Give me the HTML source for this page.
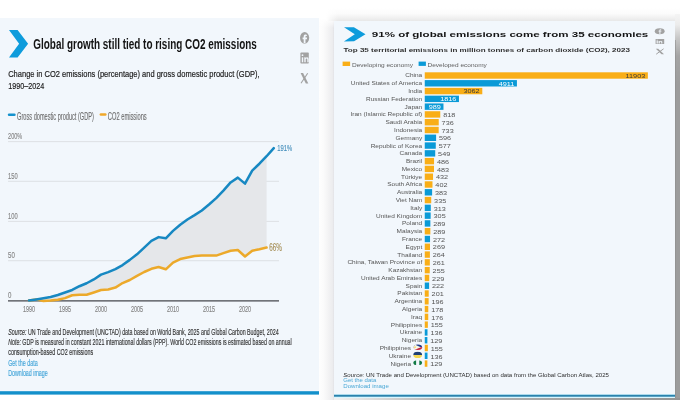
<!DOCTYPE html>
<html><head><meta charset="utf-8"><style>
html,body{margin:0;padding:0;background:#ffffff;width:680px;height:400px;overflow:hidden}
svg{display:block;filter:blur(0.28px);font-family:"Liberation Sans", sans-serif}
</style></head><body>
<svg width="680" height="400" viewBox="0 0 680 400">
<defs><linearGradient id="gl" x1="0" x2="1" y1="0" y2="0"><stop offset="0" stop-color="#fefefe"/><stop offset="0.3" stop-color="#fbfbfb"/><stop offset="0.9" stop-color="#ececee"/><stop offset="1" stop-color="#e2e2e6"/></linearGradient><linearGradient id="glv" x1="0" x2="0" y1="0" y2="1"><stop offset="0" stop-color="#fff" stop-opacity="1"/><stop offset="1" stop-color="#fff" stop-opacity="0"/></linearGradient><linearGradient id="gt" x1="0" x2="0" y1="0" y2="1"><stop offset="0" stop-color="#ffffff"/><stop offset="0.45" stop-color="#fbfbfb"/><stop offset="1" stop-color="#e8e8e8"/></linearGradient><linearGradient id="gtl" x1="0" x2="1" y1="0" y2="0"><stop offset="0" stop-color="#fff" stop-opacity="1"/><stop offset="1" stop-color="#fff" stop-opacity="0"/></linearGradient><linearGradient id="gr" x1="0" x2="0" y1="0" y2="1"><stop offset="0" stop-color="#f4f4f4"/><stop offset="0.15" stop-color="#ececec"/><stop offset="0.35" stop-color="#c6c6c6"/><stop offset="0.6" stop-color="#a4a4a4"/><stop offset="1" stop-color="#9c9c9c"/></linearGradient><linearGradient id="gb" x1="0" x2="1" y1="0" y2="0"><stop offset="0" stop-color="#f2f2f2"/><stop offset="0.3" stop-color="#b5b5b5"/><stop offset="1" stop-color="#949494"/></linearGradient></defs>
<rect x="319" y="18" width="15" height="382" fill="url(#gl)"/>
<rect x="319" y="18" width="15" height="10" fill="url(#glv)"/>
<rect x="326" y="8" width="354" height="13" fill="url(#gt)"/>
<rect x="326" y="8" width="12" height="13" fill="url(#gtl)"/>
<rect x="675" y="14" width="5" height="70" fill="url(#gr)"/>
<rect x="675" y="84" width="5" height="316" fill="#9c9c9c"/>
<rect x="675" y="40" width="1" height="360" fill="#8e8e8e" opacity="0.6"/>
<rect x="334" y="398" width="346" height="2" fill="url(#gb)"/>
<rect x="0" y="18" width="319" height="373.5" fill="#f2f7fc"/>
<rect x="0" y="391.2" width="319" height="3.4" fill="#1390cb"/>
<polygon points="9,30 17.6,30 28.1,43.7 17.6,57.5 9,57.5 19.1,43.7" fill="#0e9cdc"/>
<text x="33.30" y="49.00" font-size="14.6" font-weight="bold" fill="#141414" textLength="223.50" lengthAdjust="spacingAndGlyphs">Global growth still tied to rising CO2 emissions</text>

<text x="8.20" y="76.60" font-size="9.8" fill="#222222" stroke="#222222" stroke-width="0.2" textLength="251.50" lengthAdjust="spacingAndGlyphs">Change in CO2 emissions (percentage) and gross domestic product (GDP),</text>

<text x="8.20" y="89.20" font-size="9.8" fill="#222222" stroke="#222222" stroke-width="0.2" textLength="36.00" lengthAdjust="spacingAndGlyphs">1990–2024</text>

<g fill="#a2a2a2">
<ellipse cx="304.6" cy="37.8" rx="4.6" ry="5.9"/>
<rect x="300.4" y="52.6" width="8.4" height="11" rx="0.8"/>
</g>
<path d="M306.3,34.6 h-1.2 q-1.4,0 -1.4,1.5 v1.4 h-1.1 v1.7 h1.1 v4.1 h1.8 v-4.1 h1.4 l0.2,-1.7 h-1.6 v-1.1 q0,-0.5 0.5,-0.5 h1.1 z" fill="#f2f7fc"/>
<g fill="#f2f7fc"><rect x="301.8" y="57.3" width="1.4" height="5"/><circle cx="302.5" cy="55.2" r="0.9"/><path d="M304.3,57.3 h1.3 v0.7 q0.5,-0.8 1.5,-0.8 q1.6,0 1.6,2 v3.1 h-1.4 v-2.8 q0,-0.9 -0.8,-0.9 q-0.8,0 -0.8,1 v2.7 h-1.4 z"/></g>
<polygon points="300.6,73 303.1,73 308.3,83.5 305.8,83.5" fill="#a2a2a2"/>
<path d="M307.7,73.2 L301,83.3" stroke="#a2a2a2" stroke-width="1.1"/>
<line x1="9.1" y1="114.7" x2="14.4" y2="114.7" stroke="#1592cd" stroke-width="2.6" stroke-linecap="round"/>
<text x="17.10" y="119.60" font-size="10.2" fill="#6c6c6c" stroke="#6c6c6c" stroke-width="0.12" textLength="76.80" lengthAdjust="spacingAndGlyphs">Gross domestic product (GDP)</text>

<line x1="100.9" y1="114.5" x2="105.3" y2="114.5" stroke="#f0a82a" stroke-width="2.6" stroke-linecap="round"/>
<text x="107.80" y="119.60" font-size="10.2" fill="#6c6c6c" stroke="#6c6c6c" stroke-width="0.12" textLength="38.90" lengthAdjust="spacingAndGlyphs">CO2 emissions</text>

<rect x="8" y="141.05" width="271" height="1.1" fill="#dfe2e6"/>
<rect x="8" y="180.75" width="271" height="1.1" fill="#dfe2e6"/>
<rect x="8" y="220.85" width="271" height="1.1" fill="#dfe2e6"/>
<rect x="8" y="260.15" width="271" height="1.1" fill="#dfe2e6"/>
<text x="8.10" y="138.90" font-size="9.7" fill="#858585" stroke="#858585" stroke-width="0.14" textLength="14.20" lengthAdjust="spacingAndGlyphs">200%</text>

<text x="8.10" y="178.60" font-size="9.7" fill="#858585" stroke="#858585" stroke-width="0.14" textLength="9.60" lengthAdjust="spacingAndGlyphs">150</text>

<text x="8.10" y="218.70" font-size="9.7" fill="#858585" stroke="#858585" stroke-width="0.14" textLength="9.60" lengthAdjust="spacingAndGlyphs">100</text>

<text x="8.10" y="258.00" font-size="9.7" fill="#858585" stroke="#858585" stroke-width="0.14" textLength="6.80" lengthAdjust="spacingAndGlyphs">50</text>

<text x="8.10" y="298.15" font-size="9.7" fill="#858585" stroke="#858585" stroke-width="0.14" textLength="3.40" lengthAdjust="spacingAndGlyphs">0</text>

<polygon points="29.00,300.60 36.20,299.40 43.40,298.20 50.60,296.93 57.80,295.01 65.00,292.54 72.20,289.98 79.40,286.23 86.60,283.27 93.80,279.44 101.00,274.65 108.20,272.09 115.40,269.06 122.60,265.07 129.80,259.88 137.00,254.29 144.20,247.58 151.40,240.87 158.60,237.12 165.80,238.32 173.00,230.89 180.20,224.74 187.40,219.55 194.60,215.16 201.80,210.53 209.00,204.54 216.20,198.15 223.40,190.57 230.60,182.42 237.80,177.63 245.00,183.62 252.20,170.60 259.40,163.74 266.60,156.23 266.60,247.50 259.40,249.18 252.20,250.69 245.00,256.52 237.80,250.05 230.60,250.69 223.40,253.09 216.20,255.56 209.00,255.56 201.80,255.56 194.60,256.04 187.40,257.48 180.20,259.08 173.00,262.59 165.80,269.30 158.60,267.06 151.40,268.82 144.20,272.01 137.00,275.85 129.80,280.00 122.60,283.03 115.40,287.58 108.20,289.42 101.00,290.06 93.80,292.46 86.60,294.69 79.40,294.77 72.20,295.25 65.00,298.12 57.80,299.80 50.60,300.60 43.40,301.00 36.20,299.40 29.00,300.60" fill="#e5e7ea"/>
<rect x="8" y="300.05" width="271" height="1.6" fill="#6b6e73"/>
<text x="29.00" y="311.90" font-size="8.6" text-anchor="middle" fill="#858585" stroke="#858585" stroke-width="0.14" textLength="12.20" lengthAdjust="spacingAndGlyphs">1990</text>

<text x="65.00" y="311.90" font-size="8.6" text-anchor="middle" fill="#858585" stroke="#858585" stroke-width="0.14" textLength="12.20" lengthAdjust="spacingAndGlyphs">1995</text>

<text x="101.00" y="311.90" font-size="8.6" text-anchor="middle" fill="#858585" stroke="#858585" stroke-width="0.14" textLength="12.20" lengthAdjust="spacingAndGlyphs">2000</text>

<text x="137.00" y="311.90" font-size="8.6" text-anchor="middle" fill="#858585" stroke="#858585" stroke-width="0.14" textLength="12.20" lengthAdjust="spacingAndGlyphs">2005</text>

<text x="173.00" y="311.90" font-size="8.6" text-anchor="middle" fill="#858585" stroke="#858585" stroke-width="0.14" textLength="12.20" lengthAdjust="spacingAndGlyphs">2010</text>

<text x="209.00" y="311.90" font-size="8.6" text-anchor="middle" fill="#858585" stroke="#858585" stroke-width="0.14" textLength="12.20" lengthAdjust="spacingAndGlyphs">2015</text>

<text x="245.00" y="311.90" font-size="8.6" text-anchor="middle" fill="#858585" stroke="#858585" stroke-width="0.14" textLength="12.20" lengthAdjust="spacingAndGlyphs">2020</text>

<polyline points="29.00,300.60 36.20,299.40 43.40,301.00 50.60,300.60 57.80,299.80 65.00,298.12 72.20,295.25 79.40,294.77 86.60,294.69 93.80,292.46 101.00,290.06 108.20,289.42 115.40,287.58 122.60,283.03 129.80,280.00 137.00,275.85 144.20,272.01 151.40,268.82 158.60,267.06 165.80,269.30 173.00,262.59 180.20,259.08 187.40,257.48 194.60,256.04 201.80,255.56 209.00,255.56 216.20,255.56 223.40,253.09 230.60,250.69 237.80,250.05 245.00,256.52 252.20,250.69 259.40,249.18 266.60,247.50" fill="none" stroke="#eca92a" stroke-width="2.5" stroke-linejoin="round" stroke-linecap="round"/>
<polyline points="29.00,300.60 36.20,299.40 43.40,298.20 50.60,296.93 57.80,295.01 65.00,292.54 72.20,289.98 79.40,286.23 86.60,283.27 93.80,279.44 101.00,274.65 108.20,272.09 115.40,269.06 122.60,265.07 129.80,259.88 137.00,254.29 144.20,247.58 151.40,240.87 158.60,237.12 165.80,238.32 173.00,230.89 180.20,224.74 187.40,219.55 194.60,215.16 201.80,210.53 209.00,204.54 216.20,198.15 223.40,190.57 230.60,182.42 237.80,177.63 245.00,183.62 252.20,170.60 259.40,163.74 266.60,156.23 273.80,148.09" fill="none" stroke="#1788c2" stroke-width="2.5" stroke-linejoin="round" stroke-linecap="round"/>
<text x="277.20" y="151.20" font-size="9.8" fill="#458fbc" stroke="#458fbc" stroke-width="0.14" textLength="15.00" lengthAdjust="spacingAndGlyphs">191%</text>

<text x="269.20" y="250.70" font-size="10" fill="#a38b52" stroke="#a38b52" stroke-width="0.14" textLength="12.60" lengthAdjust="spacingAndGlyphs">66%</text>

<text x="8.2" y="335.0" font-size="8.4" fill="#333333" stroke="#333333" stroke-width="0.14" textLength="270.5" lengthAdjust="spacingAndGlyphs"><tspan font-style="italic">Source:</tspan> UN Trade and Development (UNCTAD) data based on World Bank, 2025 and Global Carbon Budget, 2024</text>
<text x="8.2" y="345.0" font-size="8.4" fill="#333333" stroke="#333333" stroke-width="0.14" textLength="283.5" lengthAdjust="spacingAndGlyphs"><tspan font-style="italic">Note:</tspan> GDP is measured in constant 2021 international dollars (PPP). World CO2 emissions is estimated based on annual</text>
<text x="8.20" y="355.00" font-size="8.4" fill="#333333" stroke="#333333" stroke-width="0.14" textLength="85.00" lengthAdjust="spacingAndGlyphs">consumption-based CO2 emissions</text>

<text x="8.20" y="365.80" font-size="8.4" fill="#43a5d9" stroke="#43a5d9" stroke-width="0.14" textLength="29.50" lengthAdjust="spacingAndGlyphs">Get the data</text>

<text x="8.20" y="375.80" font-size="8.4" fill="#43a5d9" stroke="#43a5d9" stroke-width="0.14" textLength="39.50" lengthAdjust="spacingAndGlyphs">Download image</text>

<rect x="334" y="21" width="341" height="374" fill="#f2f7fc"/>
<rect x="334" y="394.3" width="341" height="0.7" fill="#bdeefc"/>
<rect x="334" y="394.8" width="341" height="2.1" fill="#2a82ad"/>
<rect x="334" y="396.8" width="341" height="0.9" fill="#c9f3ff"/>
<polygon points="344,27.3 353.9,27.3 365.5,34.3 354.1,41.3 343.9,41.4 354.8,34.3" fill="#0e9cdc"/>
<text x="371.80" y="37.10" font-size="7.4" font-weight="bold" fill="#141414" textLength="276.50" lengthAdjust="spacingAndGlyphs">91% of global emissions come from 35 economies</text>

<text x="343.50" y="51.60" font-size="5.6" font-weight="bold" fill="#2e2e2e" textLength="286.50" lengthAdjust="spacingAndGlyphs">Top 35 territorial emissions in million tonnes of carbon dioxide (CO2), 2023</text>

<g fill="#a2a2a2"><ellipse cx="659.7" cy="31.2" rx="4.95" ry="2.95"/><rect x="655.6" y="39.1" width="8.6" height="5" rx="0.4"/></g>
<path d="M660.6,29.2 q-1.2,0 -1.2,0.9 v0.7 h-0.9 v0.8 h0.9 v2.6 h1 v-2.6 h1 l0.1,-0.8 h-1.1 v-0.5 q0,-0.3 0.4,-0.3 h0.7 z" fill="#f2f7fc"/>
<g fill="#f2f7fc"><rect x="656.6" y="41" width="1.2" height="2.5"/><rect x="656.6" y="39.8" width="1.2" height="0.8"/><path d="M658.6,41 h1.1 v0.4 q0.5,-0.5 1.3,-0.5 q1.3,0 1.3,1.2 v1.4 h-1.1 v-1.2 q0,-0.5 -0.6,-0.5 q-0.8,0 -0.8,0.6 v1.1 h-1.2 z"/></g>
<polygon points="655.8,48.7 658.2,48.7 664,54.3 661.6,54.3" fill="#a2a2a2"/>
<path d="M663.6,48.8 L656.2,54.2" stroke="#a2a2a2" stroke-width="1"/>
<rect x="342.6" y="61.6" width="7.5" height="4.4" fill="#f9ae17"/>
<text x="352.00" y="66.50" font-size="6.0" fill="#5e5e5e" textLength="61.00" lengthAdjust="spacingAndGlyphs">Developing economy</text>

<rect x="418.6" y="61.6" width="7.3" height="4.3" fill="#0a9ad7"/>
<text x="427.50" y="66.50" font-size="6.0" fill="#5e5e5e" textLength="59.30" lengthAdjust="spacingAndGlyphs">Developed economy</text>

<rect x="424.75" y="72.30" width="223.11" height="6.4" fill="#f9ae17"/>
<text x="422.20" y="77.45" font-size="6.2" text-anchor="end" fill="#555" textLength="16.94" lengthAdjust="spacingAndGlyphs">China</text>

<text x="645.26" y="77.90" font-size="5.6" text-anchor="end" fill="#3a3a3a" textLength="19.71" lengthAdjust="spacingAndGlyphs">11903</text>

<rect x="424.75" y="80.09" width="92.17" height="6.4" fill="#0a9ad7"/>
<text x="422.20" y="85.24" font-size="6.2" text-anchor="end" fill="#555" textLength="71.31" lengthAdjust="spacingAndGlyphs">United States of America</text>

<text x="514.32" y="85.69" font-size="5.6" text-anchor="end" fill="#ffffff" textLength="15.66" lengthAdjust="spacingAndGlyphs">4911</text>

<rect x="424.75" y="87.87" width="57.54" height="6.4" fill="#f9ae17"/>
<text x="422.20" y="93.02" font-size="6.2" text-anchor="end" fill="#555" textLength="14.05" lengthAdjust="spacingAndGlyphs">India</text>

<text x="479.69" y="93.47" font-size="5.6" text-anchor="end" fill="#3a3a3a" textLength="16.20" lengthAdjust="spacingAndGlyphs">3062</text>

<rect x="424.75" y="95.66" width="34.21" height="6.4" fill="#0a9ad7"/>
<text x="422.20" y="100.81" font-size="6.2" text-anchor="end" fill="#555" textLength="56.19" lengthAdjust="spacingAndGlyphs">Russian Federation</text>

<text x="456.36" y="101.26" font-size="5.6" text-anchor="end" fill="#ffffff" textLength="16.20" lengthAdjust="spacingAndGlyphs">1816</text>

<rect x="424.75" y="103.44" width="18.72" height="6.4" fill="#0a9ad7"/>
<text x="422.20" y="108.59" font-size="6.2" text-anchor="end" fill="#555" textLength="17.66" lengthAdjust="spacingAndGlyphs">Japan</text>

<text x="440.87" y="109.04" font-size="5.6" text-anchor="end" fill="#ffffff" textLength="12.15" lengthAdjust="spacingAndGlyphs">989</text>

<rect x="424.75" y="111.23" width="15.52" height="6.4" fill="#f9ae17"/>
<text x="422.20" y="116.38" font-size="6.2" text-anchor="end" fill="#555" textLength="71.65" lengthAdjust="spacingAndGlyphs">Iran (Islamic Republic of)</text>

<text x="443.17" y="117.13" font-size="5.6" fill="#555" textLength="12.15" lengthAdjust="spacingAndGlyphs">818</text>

<rect x="424.75" y="119.02" width="13.98" height="6.4" fill="#f9ae17"/>
<text x="422.20" y="124.17" font-size="6.2" text-anchor="end" fill="#555" textLength="36.75" lengthAdjust="spacingAndGlyphs">Saudi Arabia</text>

<text x="441.63" y="124.92" font-size="5.6" fill="#555" textLength="12.15" lengthAdjust="spacingAndGlyphs">736</text>

<rect x="424.75" y="126.80" width="13.93" height="6.4" fill="#f9ae17"/>
<text x="422.20" y="131.95" font-size="6.2" text-anchor="end" fill="#555" textLength="28.10" lengthAdjust="spacingAndGlyphs">Indonesia</text>

<text x="441.58" y="132.70" font-size="5.6" fill="#555" textLength="12.15" lengthAdjust="spacingAndGlyphs">733</text>

<rect x="424.75" y="134.59" width="11.36" height="6.4" fill="#0a9ad7"/>
<text x="422.20" y="139.74" font-size="6.2" text-anchor="end" fill="#555" textLength="26.64" lengthAdjust="spacingAndGlyphs">Germany</text>

<text x="439.01" y="140.49" font-size="5.6" fill="#555" textLength="12.15" lengthAdjust="spacingAndGlyphs">596</text>

<rect x="424.75" y="142.37" width="11.01" height="6.4" fill="#0a9ad7"/>
<text x="422.20" y="147.52" font-size="6.2" text-anchor="end" fill="#555" textLength="51.51" lengthAdjust="spacingAndGlyphs">Republic of Korea</text>

<text x="438.66" y="148.27" font-size="5.6" fill="#555" textLength="12.15" lengthAdjust="spacingAndGlyphs">577</text>

<rect x="424.75" y="150.16" width="10.48" height="6.4" fill="#0a9ad7"/>
<text x="422.20" y="155.31" font-size="6.2" text-anchor="end" fill="#555" textLength="22.70" lengthAdjust="spacingAndGlyphs">Canada</text>

<text x="438.13" y="156.06" font-size="5.6" fill="#555" textLength="12.15" lengthAdjust="spacingAndGlyphs">549</text>

<rect x="424.75" y="157.95" width="9.30" height="6.4" fill="#f9ae17"/>
<text x="422.20" y="163.10" font-size="6.2" text-anchor="end" fill="#555" textLength="16.21" lengthAdjust="spacingAndGlyphs">Brazil</text>

<text x="436.95" y="163.85" font-size="5.6" fill="#555" textLength="12.15" lengthAdjust="spacingAndGlyphs">486</text>

<rect x="424.75" y="165.73" width="9.25" height="6.4" fill="#f9ae17"/>
<text x="422.20" y="170.88" font-size="6.2" text-anchor="end" fill="#555" textLength="20.53" lengthAdjust="spacingAndGlyphs">Mexico</text>

<text x="436.90" y="171.63" font-size="5.6" fill="#555" textLength="12.15" lengthAdjust="spacingAndGlyphs">483</text>

<rect x="424.75" y="173.52" width="8.29" height="6.4" fill="#f9ae17"/>
<text x="422.20" y="178.67" font-size="6.2" text-anchor="end" fill="#555" textLength="21.25" lengthAdjust="spacingAndGlyphs">Türkiye</text>

<text x="435.94" y="179.42" font-size="5.6" fill="#555" textLength="12.15" lengthAdjust="spacingAndGlyphs">432</text>

<rect x="424.75" y="181.30" width="7.73" height="6.4" fill="#f9ae17"/>
<text x="422.20" y="186.45" font-size="6.2" text-anchor="end" fill="#555" textLength="34.94" lengthAdjust="spacingAndGlyphs">South Africa</text>

<text x="435.38" y="187.20" font-size="5.6" fill="#555" textLength="12.15" lengthAdjust="spacingAndGlyphs">402</text>

<rect x="424.75" y="189.09" width="7.37" height="6.4" fill="#0a9ad7"/>
<text x="422.20" y="194.24" font-size="6.2" text-anchor="end" fill="#555" textLength="25.21" lengthAdjust="spacingAndGlyphs">Australia</text>

<text x="435.02" y="194.99" font-size="5.6" fill="#555" textLength="12.15" lengthAdjust="spacingAndGlyphs">383</text>

<rect x="424.75" y="196.88" width="6.47" height="6.4" fill="#f9ae17"/>
<text x="422.20" y="202.03" font-size="6.2" text-anchor="end" fill="#555" textLength="26.53" lengthAdjust="spacingAndGlyphs">Viet Nam</text>

<text x="434.12" y="202.78" font-size="5.6" fill="#555" textLength="12.15" lengthAdjust="spacingAndGlyphs">335</text>

<rect x="424.75" y="204.66" width="6.06" height="6.4" fill="#0a9ad7"/>
<text x="422.20" y="209.81" font-size="6.2" text-anchor="end" fill="#555" textLength="11.88" lengthAdjust="spacingAndGlyphs">Italy</text>

<text x="433.71" y="210.56" font-size="5.6" fill="#555" textLength="12.15" lengthAdjust="spacingAndGlyphs">313</text>

<rect x="424.75" y="212.45" width="5.91" height="6.4" fill="#0a9ad7"/>
<text x="422.20" y="217.60" font-size="6.2" text-anchor="end" fill="#555" textLength="46.10" lengthAdjust="spacingAndGlyphs">United Kingdom</text>

<text x="433.56" y="218.35" font-size="5.6" fill="#555" textLength="12.15" lengthAdjust="spacingAndGlyphs">305</text>

<rect x="424.75" y="220.23" width="5.61" height="6.4" fill="#0a9ad7"/>
<text x="422.20" y="225.38" font-size="6.2" text-anchor="end" fill="#555" textLength="20.18" lengthAdjust="spacingAndGlyphs">Poland</text>

<text x="433.26" y="226.13" font-size="5.6" fill="#555" textLength="12.15" lengthAdjust="spacingAndGlyphs">289</text>

<rect x="424.75" y="228.02" width="5.61" height="6.4" fill="#f9ae17"/>
<text x="422.20" y="233.17" font-size="6.2" text-anchor="end" fill="#555" textLength="25.57" lengthAdjust="spacingAndGlyphs">Malaysia</text>

<text x="433.26" y="233.92" font-size="5.6" fill="#555" textLength="12.15" lengthAdjust="spacingAndGlyphs">289</text>

<rect x="424.75" y="235.81" width="5.29" height="6.4" fill="#0a9ad7"/>
<text x="422.20" y="240.96" font-size="6.2" text-anchor="end" fill="#555" textLength="20.17" lengthAdjust="spacingAndGlyphs">France</text>

<text x="432.94" y="241.71" font-size="5.6" fill="#555" textLength="12.15" lengthAdjust="spacingAndGlyphs">272</text>

<rect x="424.75" y="243.59" width="5.24" height="6.4" fill="#f9ae17"/>
<text x="422.20" y="248.74" font-size="6.2" text-anchor="end" fill="#555" textLength="16.57" lengthAdjust="spacingAndGlyphs">Egypt</text>

<text x="432.89" y="249.49" font-size="5.6" fill="#555" textLength="12.15" lengthAdjust="spacingAndGlyphs">269</text>

<rect x="424.75" y="251.38" width="5.14" height="6.4" fill="#f9ae17"/>
<text x="422.20" y="256.53" font-size="6.2" text-anchor="end" fill="#555" textLength="24.85" lengthAdjust="spacingAndGlyphs">Thailand</text>

<text x="432.79" y="257.28" font-size="5.6" fill="#555" textLength="12.15" lengthAdjust="spacingAndGlyphs">264</text>

<rect x="424.75" y="259.16" width="5.09" height="6.4" fill="#f9ae17"/>
<text x="422.20" y="264.31" font-size="6.2" text-anchor="end" fill="#555" textLength="74.79" lengthAdjust="spacingAndGlyphs">China, Taiwan Province of</text>

<text x="432.74" y="265.06" font-size="5.6" fill="#555" textLength="12.15" lengthAdjust="spacingAndGlyphs">261</text>

<rect x="424.75" y="266.95" width="4.98" height="6.4" fill="#f9ae17"/>
<text x="422.20" y="272.10" font-size="6.2" text-anchor="end" fill="#555" textLength="33.86" lengthAdjust="spacingAndGlyphs">Kazakhstan</text>

<text x="432.63" y="272.85" font-size="5.6" fill="#555" textLength="12.15" lengthAdjust="spacingAndGlyphs">255</text>

<rect x="424.75" y="274.74" width="4.49" height="6.4" fill="#f9ae17"/>
<text x="422.20" y="279.89" font-size="6.2" text-anchor="end" fill="#555" textLength="61.23" lengthAdjust="spacingAndGlyphs">United Arab Emirates</text>

<text x="432.14" y="280.64" font-size="5.6" fill="#555" textLength="12.15" lengthAdjust="spacingAndGlyphs">229</text>

<rect x="424.75" y="282.52" width="4.36" height="6.4" fill="#0a9ad7"/>
<text x="422.20" y="287.67" font-size="6.2" text-anchor="end" fill="#555" textLength="16.57" lengthAdjust="spacingAndGlyphs">Spain</text>

<text x="432.01" y="288.42" font-size="5.6" fill="#555" textLength="12.15" lengthAdjust="spacingAndGlyphs">222</text>

<rect x="424.75" y="290.31" width="3.96" height="6.4" fill="#f9ae17"/>
<text x="422.20" y="295.46" font-size="6.2" text-anchor="end" fill="#555" textLength="24.85" lengthAdjust="spacingAndGlyphs">Pakistan</text>

<text x="431.61" y="296.21" font-size="5.6" fill="#555" textLength="12.15" lengthAdjust="spacingAndGlyphs">201</text>

<rect x="424.75" y="298.09" width="3.87" height="6.4" fill="#f9ae17"/>
<text x="422.20" y="303.24" font-size="6.2" text-anchor="end" fill="#555" textLength="27.74" lengthAdjust="spacingAndGlyphs">Argentina</text>

<text x="431.52" y="303.99" font-size="5.6" fill="#555" textLength="12.15" lengthAdjust="spacingAndGlyphs">196</text>

<rect x="424.75" y="305.88" width="3.53" height="6.4" fill="#f9ae17"/>
<text x="422.20" y="311.03" font-size="6.2" text-anchor="end" fill="#555" textLength="20.18" lengthAdjust="spacingAndGlyphs">Algeria</text>

<text x="431.18" y="311.78" font-size="5.6" fill="#555" textLength="12.15" lengthAdjust="spacingAndGlyphs">178</text>

<rect x="424.75" y="313.67" width="3.50" height="6.4" fill="#f9ae17"/>
<text x="422.20" y="318.82" font-size="6.2" text-anchor="end" fill="#555" textLength="11.17" lengthAdjust="spacingAndGlyphs">Iraq</text>

<text x="431.15" y="319.57" font-size="5.6" fill="#555" textLength="12.15" lengthAdjust="spacingAndGlyphs">176</text>

<rect x="424.75" y="321.45" width="3.10" height="6.4" fill="#f9ae17"/>
<text x="422.20" y="326.60" font-size="6.2" text-anchor="end" fill="#555" textLength="31.34" lengthAdjust="spacingAndGlyphs">Philippines</text>

<text x="430.75" y="327.35" font-size="5.6" fill="#555" textLength="12.15" lengthAdjust="spacingAndGlyphs">155</text>

<rect x="424.75" y="329.24" width="2.75" height="6.4" fill="#0a9ad7"/>
<text x="422.20" y="334.39" font-size="6.2" text-anchor="end" fill="#555" textLength="22.33" lengthAdjust="spacingAndGlyphs">Ukraine</text>

<text x="430.40" y="335.14" font-size="5.6" fill="#555" textLength="12.15" lengthAdjust="spacingAndGlyphs">136</text>

<rect x="424.75" y="337.02" width="2.62" height="6.4" fill="#0a9ad7"/>
<text x="422.20" y="342.17" font-size="6.2" text-anchor="end" fill="#555" textLength="20.53" lengthAdjust="spacingAndGlyphs">Nigeria</text>

<text x="430.27" y="342.92" font-size="5.6" fill="#555" textLength="12.15" lengthAdjust="spacingAndGlyphs">129</text>

<rect x="424.75" y="344.81" width="3.10" height="6.4" fill="#f9ae17"/>
<text x="411.00" y="349.96" font-size="6.2" text-anchor="end" fill="#555" textLength="31.34" lengthAdjust="spacingAndGlyphs">Philippines</text>

<text x="430.75" y="350.71" font-size="5.6" fill="#555" textLength="12.15" lengthAdjust="spacingAndGlyphs">155</text>

<rect x="424.75" y="352.60" width="2.75" height="6.4" fill="#0a9ad7"/>
<text x="411.00" y="357.75" font-size="6.2" text-anchor="end" fill="#555" textLength="22.33" lengthAdjust="spacingAndGlyphs">Ukraine</text>

<text x="430.40" y="358.50" font-size="5.6" fill="#555" textLength="12.15" lengthAdjust="spacingAndGlyphs">136</text>

<rect x="424.75" y="360.38" width="2.62" height="6.4" fill="#f9ae17"/>
<text x="411.00" y="365.53" font-size="6.2" text-anchor="end" fill="#555" textLength="20.53" lengthAdjust="spacingAndGlyphs">Nigeria</text>

<text x="430.27" y="366.28" font-size="5.6" fill="#555" textLength="12.15" lengthAdjust="spacingAndGlyphs">129</text>

<defs><clipPath id="fc1"><ellipse cx="417.9" cy="347.16" rx="4.2" ry="2.75"/></clipPath><clipPath id="fc2"><ellipse cx="417.7" cy="354.95" rx="4.4" ry="3.1"/></clipPath><clipPath id="fc3"><ellipse cx="417.7" cy="362.73" rx="4.4" ry="2.5"/></clipPath></defs>
<g clip-path="url(#fc1)"><rect x="413" y="343.66" width="10" height="3.5" fill="#1f3a8c"/><rect x="413" y="347.16" width="10" height="3.5" fill="#c8243a"/><polygon points="412.5,343.56 420.8,347.16 412.5,350.76" fill="#f8f6e6"/><circle cx="415" cy="347.16" r="0.9" fill="#f3dc6a"/></g>
<g clip-path="url(#fc2)"><rect x="413" y="351.45" width="10" height="3.6" fill="#1e3f75"/><rect x="413" y="355.05" width="10" height="3.5" fill="#f2d64e"/></g>
<g clip-path="url(#fc3)"><rect x="413" y="359.23" width="3.1" height="7" fill="#127a45"/><rect x="419.3" y="359.23" width="3.8" height="7" fill="#127a45"/></g>
<text x="343.3" y="377.4" font-size="4.5" fill="#2e2e2e" textLength="265.7" lengthAdjust="spacingAndGlyphs"><tspan font-style="italic">Source:</tspan> UN Trade and Development (UNCTAD) based on data from the Global Carbon Atlas, 2025</text>
<text x="343.30" y="382.30" font-size="4.5" fill="#4aa8d6" textLength="33.00" lengthAdjust="spacingAndGlyphs">Get the data</text>

<text x="343.30" y="387.70" font-size="4.5" fill="#4aa8d6" textLength="45.50" lengthAdjust="spacingAndGlyphs">Download image</text>

</svg>
</body></html>
